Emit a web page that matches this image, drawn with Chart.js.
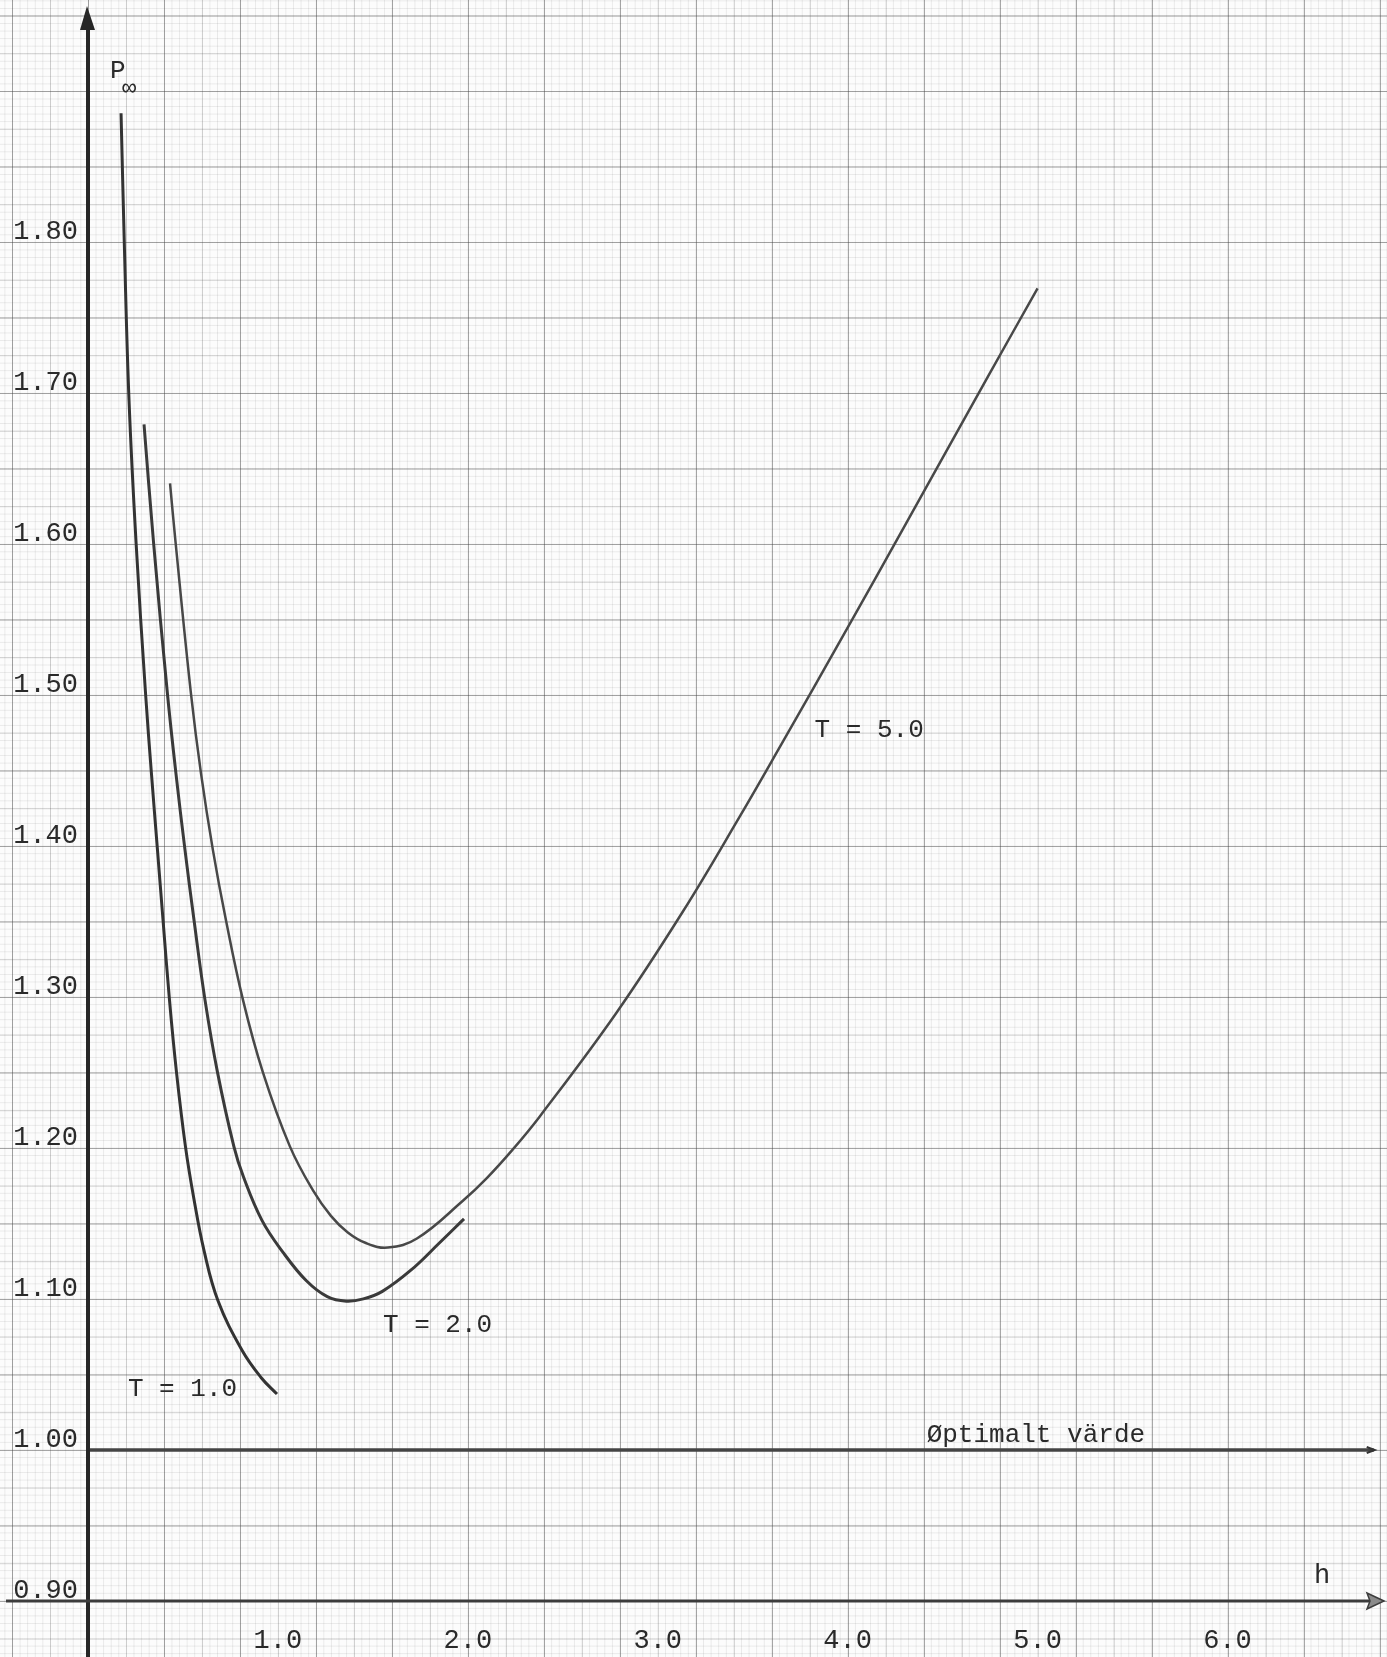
<!DOCTYPE html>
<html>
<head>
<meta charset="utf-8">
<script src="https://cdn.jsdelivr.net/npm/chart.js@4.4.1/dist/chart.umd.min.js"></script>
<style>
html, body { margin: 0; padding: 0; }
body {
    width: 1387px;
    height: 1657px;
    overflow: hidden;
    background-color: #fcfcfc;
    /* millimeterpapper */
    background-image:
        linear-gradient(to right, rgba(70,70,70,.34) 1px, transparent 1px),
        linear-gradient(to bottom, rgba(70,70,70,.34) 1px, transparent 1px),
        linear-gradient(to right, rgba(70,70,70,.18) 1px, transparent 1px),
        linear-gradient(to bottom, rgba(70,70,70,.18) 1px, transparent 1px),
        linear-gradient(to right, rgba(70,70,70,.10) 1px, transparent 1px),
        linear-gradient(to bottom, rgba(70,70,70,.10) 1px, transparent 1px);
    background-size: 76px 100%, 100% 75.5px, 38px 100%, 100% 37.75px, 7.6px 100%, 100% 7.55px;
    background-position: 12px 0, 0 15.5px, 12px 0, 0 15.5px, 12px 0, 0 15.5px;
}
canvas { display: block; }
</style>
</head>
<body>
<canvas id="myChart" width="1387" height="1657"></canvas>
<script>
// Avlästa värden: steglängd h och P-oändlighet för olika T
var hT1 = [0.174, 0.192, 0.216, 0.253, 0.303, 0.334, 0.366, 0.395, 0.429, 0.466, 0.513, 0.558, 0.611, 0.684, 0.811, 0.911, 0.995];
var pT1 = [1.885, 1.795, 1.695, 1.601, 1.501, 1.448, 1.397, 1.351, 1.298, 1.250, 1.201, 1.166, 1.132, 1.099, 1.066, 1.048, 1.037];

var hT2 = [0.295, 0.345, 0.418, 0.463, 0.511, 0.558, 0.616, 0.682, 0.768, 0.818, 0.916, 1.026, 1.15, 1.26, 1.36, 1.45, 1.55, 1.70, 1.85, 1.98];
var pT2 = [1.679, 1.601, 1.501, 1.448, 1.397, 1.351, 1.298, 1.250, 1.201, 1.181, 1.152, 1.131, 1.112, 1.1015, 1.0985, 1.100, 1.105, 1.119, 1.137, 1.153];

var hT5 = [0.432, 0.461, 0.542, 0.595, 0.658, 0.726, 0.816, 0.921, 1.063, 1.184, 1.279, 1.368, 1.463, 1.579, 1.732, 1.974, 2.10, 2.237, 2.38, 2.78, 3.13, 3.43, 3.65, 3.98, 4.31, 4.74, 5.0];
var pT5 = [1.640, 1.601, 1.501, 1.448, 1.397, 1.351, 1.298, 1.250, 1.201, 1.172, 1.155, 1.144, 1.137, 1.134, 1.140, 1.165, 1.180, 1.199, 1.221, 1.289, 1.356, 1.419, 1.467, 1.540, 1.614, 1.711, 1.769];

var optimum = 1.0;
var optimumRange = [0, 6.77];

var hTicks = [1, 2, 3, 4, 5, 6];
var pLabelMax = 1.80;

var font = '"Liberation Mono", "Courier New", monospace';

function points(hs, ps) {
    return hs.map(function (h, i) {
        return { x: h, y: ps[i] };
    });
}

// Text och pilar som ritas ovanpå diagrammet
var texts = [
    { text: 'T = 1.0', h: 0.21, p: 1.036 },
    { text: 'T = 2.0', h: 1.553, p: 1.078 },
    { text: 'T = 5.0', h: 3.826, p: 1.472 },
    { text: 'Øptimalt värde', h: 4.416, p: 1.005 }
];

var paperPlugin = {
    id: 'paper',
    afterDraw: function (chart) {
        var ctx = chart.ctx;
        var xs = chart.scales.x;
        var ys = chart.scales.y;
        var x0 = xs.getPixelForValue(0);
        var y0 = ys.getPixelForValue(0.9);
        ctx.save();
        // y-axel
        ctx.strokeStyle = '#262626';
        ctx.fillStyle = '#262626';
        ctx.lineWidth = 4;
        ctx.beginPath();
        ctx.moveTo(x0, chart.height);
        ctx.lineTo(x0, 24);
        ctx.stroke();
        ctx.beginPath();
        ctx.moveTo(x0 - 1, 6);
        ctx.lineTo(x0 - 8, 30);
        ctx.lineTo(x0 + 7, 30);
        ctx.closePath();
        ctx.fill();
        // x-axel
        ctx.strokeStyle = '#3c3c3c';
        ctx.fillStyle = '#8a8a8a';
        ctx.lineWidth = 3;
        ctx.beginPath();
        ctx.moveTo(6, y0);
        ctx.lineTo(1370, y0);
        ctx.stroke();
        ctx.lineWidth = 1.5;
        ctx.beginPath();
        ctx.moveTo(1384, y0);
        ctx.lineTo(1367, y0 - 8);
        ctx.lineTo(1370, y0);
        ctx.lineTo(1367, y0 + 8);
        ctx.closePath();
        ctx.fill();
        ctx.stroke();
        // pil på optimallinjen
        var yo = ys.getPixelForValue(optimum);
        var xo = xs.getPixelForValue(optimumRange[1]);
        ctx.strokeStyle = '#333';
        ctx.lineWidth = 2;
        ctx.beginPath();
        ctx.moveTo(xo - 7, yo - 3);
        ctx.lineTo(xo + 1, yo);
        ctx.lineTo(xo - 7, yo + 3);
        ctx.stroke();

        ctx.fillStyle = '#2a2a2a';
        ctx.font = '26px ' + font;
        ctx.textBaseline = 'alphabetic';
        texts.forEach(function (t) {
            ctx.fillText(t.text, xs.getPixelForValue(t.h), ys.getPixelForValue(t.p));
        });
        // P-oändlighet och h
        ctx.fillText('P', 110, 78);
        ctx.font = '24px ' + font;
        ctx.fillText('∞', 122, 95);
        ctx.font = '27px ' + font;
        ctx.fillText('h', 1314, 1583);
        ctx.restore();
    }
};

new Chart('myChart', {
    type: 'line',
    data: {
        datasets: [{
            label: 'T = 1.0',
            data: points(hT1, pT1),
            borderColor: '#333',
            borderWidth: 3,
            pointRadius: 0,
            tension: 0.4
        }, {
            label: 'T = 2.0',
            data: points(hT2, pT2),
            borderColor: '#3a3a3a',
            borderWidth: 3,
            pointRadius: 0,
            tension: 0.4
        }, {
            label: 'T = 5.0',
            data: points(hT5, pT5),
            borderColor: '#484848',
            borderWidth: 2.5,
            pointRadius: 0,
            tension: 0.4
        }, {
            label: 'Optimalt värde',
            data: optimumRange.map(function (h) { return { x: h, y: optimum }; }),
            borderColor: '#444',
            borderWidth: 3.5,
            pointRadius: 0
        }]
    },
    options: {
        responsive: false,
        animation: false,
        devicePixelRatio: 1,
        layout: { padding: 0 },
        plugins: {
            legend: { display: false },
            tooltip: { enabled: false }
        },
        scales: {
            x: {
                type: 'linear',
                min: 0,
                max: 6.84,
                grid: { display: false, drawTicks: false },
                border: { display: false },
                afterBuildTicks: function (s) {
                    s.ticks = hTicks.map(function (v) { return { value: v }; });
                },
                afterFit: function (s) {
                    s.height = 56;
                    s.paddingLeft = 0;
                    s.paddingRight = 0;
                },
                ticks: {
                    autoSkip: false,
                    maxRotation: 0,
                    padding: 24,
                    color: '#2a2a2a',
                    font: { family: font, size: 27 },
                    callback: function (v) { return v.toFixed(1); }
                }
            },
            y: {
                type: 'linear',
                min: 0.9,
                max: 1.96,
                grid: { display: false, drawTicks: false },
                border: { display: false },
                afterFit: function (s) {
                    s.width = 88;
                    s.paddingTop = 0;
                    s.paddingBottom = 0;
                },
                ticks: {
                    stepSize: 0.1,
                    autoSkip: false,
                    padding: 10,
                    labelOffset: -10,
                    color: '#2a2a2a',
                    font: { family: font, size: 27 },
                    callback: function (v) {
                        return v <= pLabelMax + 0.001 ? v.toFixed(2) : null;
                    }
                }
            }
        }
    },
    plugins: [paperPlugin]
});
</script>
</body>
</html>
